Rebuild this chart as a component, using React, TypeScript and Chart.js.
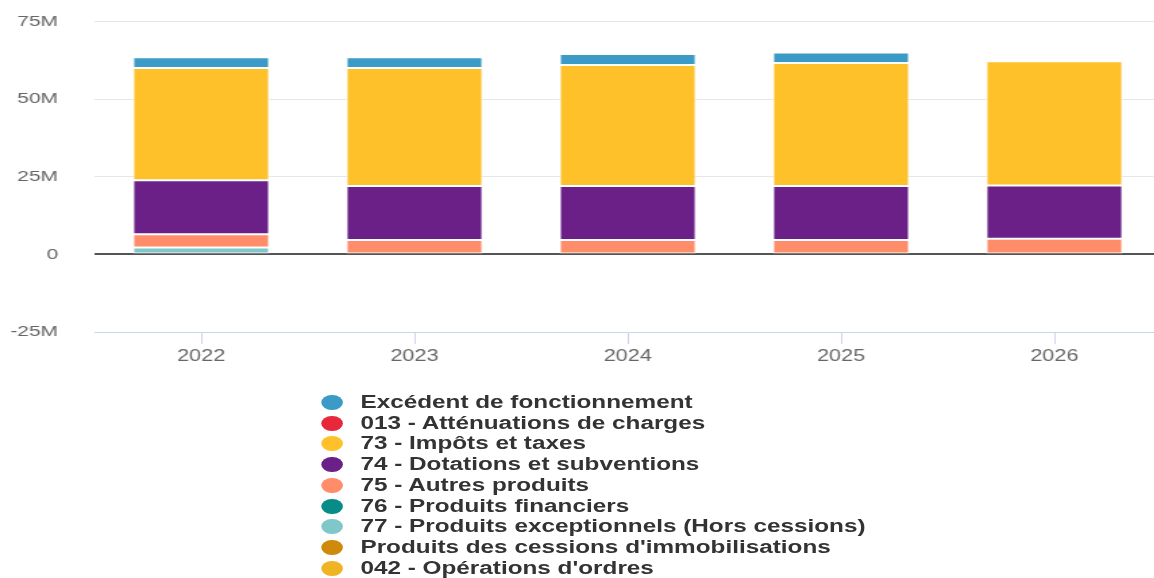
import React, { useEffect, useRef } from 'react';
import { Chart, registerables } from 'chart.js';

Chart.register(...registerables);

const categories = ['2022', '2023', '2024', '2025', '2026'];

// Legend order (top of legend = top of stack)
const seriesNames = [
  'Excédent de fonctionnement',
  '013 - Atténuations de charges',
  '73 - Impôts et taxes',
  '74 - Dotations et subventions',
  '75 - Autres produits',
  '76 - Produits financiers',
  '77 - Produits exceptionnels (Hors cessions)',
  "Produits des cessions d'immobilisations",
  "042 - Opérations d'ordres",
];
const seriesColors = [
  '#3b9bc6',
  '#e8273a',
  '#fec12a',
  '#6b2088',
  '#ff8d6a',
  '#078c87',
  '#80c7ca',
  '#cf8a0b',
  '#f0b323',
];

const excedentFonctionnement = [3.5e6, 3.5e6, 3.5e6, 3.4e6, 0];
const attenuationsCharges = [0, 0, 0, 0, 0];
const impotsTaxes = [36.1e6, 38.0e6, 39.0e6, 39.6e6, 40.0e6];
const dotationsSubventions = [17.4e6, 17.4e6, 17.4e6, 17.4e6, 17.2e6];
const autresProduits = [4.3e6, 4.6e6, 4.6e6, 4.6e6, 5.0e6];
const produitsFinanciers = [0, 0, 0, 0, 0];
const produitsExceptionnels = [2.2e6, 0, 0, 0, 0];
const cessionsImmobilisations = [0, 0, 0, 0, 0];
const operationsOrdres = [0, 0, 0, 0, 0];

const seriesValues = [
  excedentFonctionnement,
  attenuationsCharges,
  impotsTaxes,
  dotationsSubventions,
  autresProduits,
  produitsFinanciers,
  produitsExceptionnels,
  cessionsImmobilisations,
  operationsOrdres,
];

const yTickValues = [-25e6, 0, 25e6, 50e6, 75e6];

const FONT = "'Liberation Sans', Arial, Helvetica, sans-serif";
const STRETCH = 1.35;
const INNER_W = 864;
const CANVAS_H = 372;

export default function App() {
  const canvasRef = useRef<HTMLCanvasElement | null>(null);

  useEffect(() => {
    if (!canvasRef.current) return;
    // datasets bottom-first for stacking (reverse of legend order)
    const datasets = seriesNames
      .map((name, i) => ({
        label: name,
        data: seriesValues[i],
        backgroundColor: seriesColors[i],
        borderColor: '#ffffff',
        borderWidth: 1,
        borderSkipped: false as const,
      }))
      .reverse();

    const chart = new Chart(canvasRef.current, {
      type: 'bar',
      data: { labels: categories, datasets },
      options: {
        animation: false,
        responsive: true,
        maintainAspectRatio: false,
        layout: { padding: { top: 21.5, right: 4, left: 0, bottom: 0 } },
        plugins: { legend: { display: false }, tooltip: { enabled: false } },
        datasets: { bar: { categoryPercentage: 1, barPercentage: 0.64 } },
        scales: {
          x: {
            stacked: true,
            offset: true,
            grid: {
              offset: false,
              drawOnChartArea: false,
              drawTicks: true,
              tickLength: 12,
              color: '#ccd6eb',
            },
            border: { display: true, color: '#ccd6eb', width: 1 },
            ticks: { color: '#666666', font: { family: FONT, size: 16 }, padding: 3 },
            afterFit: (s: any) => {
              s.height = 40;
            },
          },
          y: {
            stacked: true,
            min: -25e6,
            max: 75e6,
            afterBuildTicks: (s: any) => {
              s.ticks = yTickValues.map((v) => ({ value: v }));
            },
            border: { display: false },
            grid: {
              drawTicks: true,
              tickLength: 25,
              tickColor: 'rgba(0,0,0,0)',
              color: (ctx: any) =>
                ctx.tick && ctx.tick.value === 0
                  ? '#555555'
                  : ctx.tick && ctx.tick.value === -25e6
                  ? 'rgba(0,0,0,0)'
                  : '#e6e6e6',
              lineWidth: (ctx: any) => (ctx.tick && ctx.tick.value === 0 ? 2 : 1),
            },
            ticks: {
              padding: 2,
              color: '#666666',
              font: { family: FONT, size: 15.5 },
              callback: (v: any) => (Number(v) === 0 ? '0' : `${Number(v) / 1e6}M`),
            },
            afterFit: (s: any) => {
              s.width = 70;
            },
          },
        },
      },
    });
    return () => chart.destroy();
  }, []);

  return (
    <div
      style={{
        position: 'fixed',
        left: 0,
        top: 0,
        width: 1154,
        height: 578,
        overflow: 'hidden',
        background: '#ffffff',
      }}
    >
      <div style={{ width: INNER_W, transform: `scaleX(${STRETCH})`, transformOrigin: '0 0' }}>
        <div style={{ position: 'relative', width: INNER_W, height: CANVAS_H }}>
          <canvas ref={canvasRef} />
        </div>
        <div style={{ marginTop: 20, marginLeft: 238 }}>
          {seriesNames.map((name, i) => (
            <div
              key={name}
              style={{
                display: 'flex',
                alignItems: 'center',
                height: 20.75,
                fontFamily: FONT,
                fontWeight: 'bold',
                fontSize: 18,
                color: '#333333',
                whiteSpace: 'nowrap',
              }}
            >
              <span
                style={{
                  display: 'inline-block',
                  width: 15.5,
                  height: 15,
                  borderRadius: '50%',
                  background: seriesColors[i],
                  marginRight: 13.5,
                  flex: '0 0 auto',
                }}
              />
              <span>{name}</span>
            </div>
          ))}
        </div>
      </div>
    </div>
  );
}
